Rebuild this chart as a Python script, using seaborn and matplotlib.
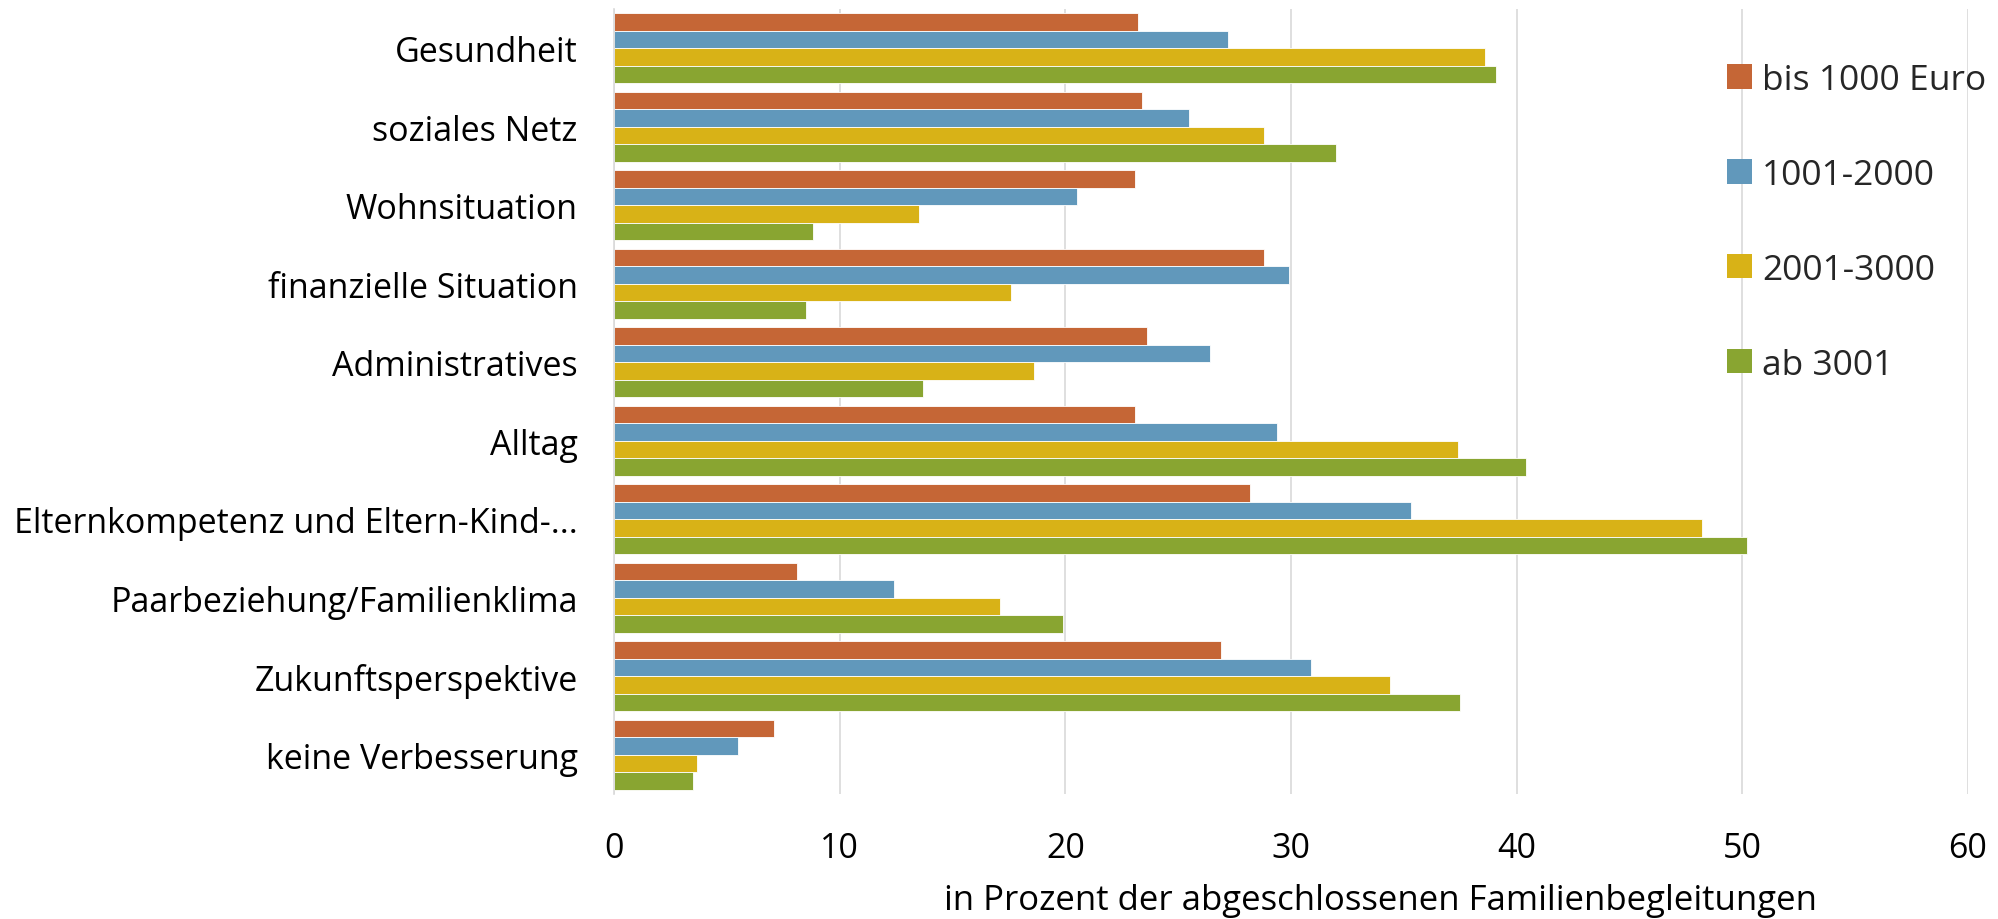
import matplotlib
matplotlib.use("Agg")
import matplotlib.pyplot as plt
import seaborn as sns
import pandas as pd
from matplotlib.patches import Patch

categories = [
    "Gesundheit",
    "soziales Netz",
    "Wohnsituation",
    "finanzielle Situation",
    "Administratives",
    "Alltag",
    "Elternkompetenz und Eltern-Kind-...",
    "Paarbeziehung/Familienklima",
    "Zukunftsperspektive",
    "keine Verbesserung",
]
series_names = ["bis 1000 Euro", "1001-2000", "2001-3000", "ab 3001"]
bis_1000 = [23.2, 23.4, 23.1, 28.8, 23.6, 23.1, 28.2, 8.1, 26.9, 7.1]
v_1001_2000 = [27.2, 25.5, 20.5, 29.9, 26.4, 29.4, 35.3, 12.4, 30.9, 5.5]
v_2001_3000 = [38.6, 28.8, 13.5, 17.6, 18.6, 37.4, 48.2, 17.1, 34.4, 3.7]
ab_3001 = [39.1, 32.0, 8.8, 8.5, 13.7, 40.4, 50.2, 19.9, 37.5, 3.5]
colors = ["#C56636", "#6198BB", "#D8B217", "#89A531"]
x_ticks = [0, 10, 20, 30, 40, 50, 60]
x_label = "in Prozent der abgeschlossenen Familienbegleitungen"

rows = []
for name, vals in zip(series_names, [bis_1000, v_1001_2000, v_2001_3000, ab_3001]):
    for c, v in zip(categories, vals):
        rows.append({"Kategorie": c, "Einkommen": name, "Wert": v})
df = pd.DataFrame(rows)

sns.set_theme(style="white")
plt.rcParams["font.family"] = ["Open Sans", "DejaVu Sans"]

FS = 24.5

fig = plt.figure(figsize=(19.98, 9.2), dpi=100)
ax = fig.add_axes([0.3073, 0.1359, 0.6777, 0.8533])

sns.barplot(
    data=df, y="Kategorie", x="Wert", hue="Einkommen",
    order=categories, hue_order=series_names, palette=colors,
    orient="h", width=0.89, saturation=1, ax=ax,
    edgecolor="white", linewidth=0.6, legend=False,
)

ax.set_xlim(0, 60)
ax.set_ylim(9.5, -0.5)
ax.set_xticks(x_ticks)
ax.set_xticklabels([str(t) for t in x_ticks])
ax.grid(axis="x", color="#D9D9D9", linewidth=1.2)
ax.grid(axis="y", visible=False)
ax.set_axisbelow(True)
for s in ["top", "right", "bottom"]:
    ax.spines[s].set_visible(False)
ax.spines["left"].set_color("#D9D9D9")
ax.spines["left"].set_linewidth(1.2)

ax.tick_params(axis="x", labelsize=FS, pad=27, length=0, colors="black")
ax.tick_params(axis="y", labelsize=FS, pad=26, length=0, colors="black")
ax.set_ylabel("")
ax.set_xlabel(x_label, fontsize=25, color="black")
ax.xaxis.set_label_coords(0.566, -0.114)

handles = [Patch(facecolor=c, edgecolor="none") for c in colors]
leg = ax.legend(
    handles, series_names, loc="upper left",
    bbox_to_anchor=(0.8575, 0.946), bbox_transform=fig.transFigure,
    frameon=False, fontsize=25.5, handlelength=0.68, handleheight=0.68,
    handletextpad=0.3, labelspacing=1.72, borderaxespad=0,
)

fig.savefig("out.png", dpi=100)
